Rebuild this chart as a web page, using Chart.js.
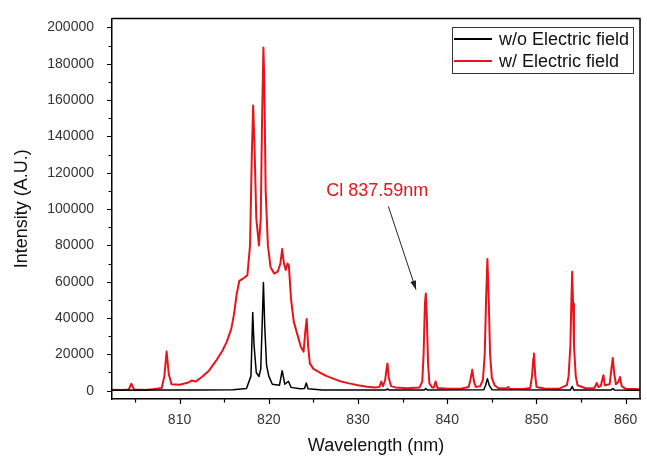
<!DOCTYPE html>
<html>
<head>
<meta charset="utf-8">
<script src="https://cdn.jsdelivr.net/npm/chart.js@4.4.1/dist/chart.umd.min.js"></script>
<style>
html,body{margin:0;padding:0;background:#fff;}
canvas{display:block;}
</style>
</head>
<body>
<canvas id="c" width="647" height="456"></canvas>
<script>
// ---- data ----
const seriesLabels = ['w/o Electric field', 'w/ Electric field'];

const blackWavelength = [802.4,808.0,812.0,816.0,817.5,818.0,818.1,818.2,818.35,818.6,818.9,819.1,819.25,819.4,819.55,819.75,820.0,820.4,821.2,821.5,821.8,822.2,822.5,823.5,824.0,824.2,824.4,826.0,830.0,833.1,833.3,833.5,837.4,837.6,837.8,844.1,844.3,844.5,844.7,845.0,853.8,854.0,854.2,858.35,858.55,858.75,861.6];
const blackIntensity = [200,300,300,500,1200,8000,25000,43000,25000,10000,7800,12000,35000,59500,35000,14000,8000,3500,3000,11000,3500,5200,1800,1000,1200,4200,1000,400,300,300,900,300,300,1200,300,500,3000,6600,3000,500,300,2300,300,300,1200,300,200];

const redWavelength = [802.4,803.5,804.3,804.6,804.9,806.0,807.0,808.0,808.3,808.55,808.8,809.1,810.0,811.0,811.4,811.8,812.5,813.3,814.1,814.8,815.3,815.8,816.1,816.4,816.7,817.2,817.6,817.9,818.1,818.25,818.4,818.6,818.9,819.1,819.25,819.4,819.5,819.65,819.9,820.2,820.6,821.0,821.3,821.5,821.7,821.9,822.1,822.25,822.5,822.8,823.2,823.6,823.9,824.1,824.25,824.4,824.6,825.0,825.7,826.5,827.3,828.0,829.0,830.0,831.0,832.0,832.4,832.6,832.8,833.05,833.2,833.3,833.45,833.7,834.2,835.5,836.9,837.2,837.35,837.5,837.6,837.7,837.85,838.0,838.3,838.5,838.7,838.9,840.0,841.5,842.4,842.6,842.8,843.0,843.2,843.7,844.0,844.2,844.35,844.5,844.65,844.8,845.0,845.3,845.7,846.6,846.8,847.0,848.5,849.3,849.5,849.65,849.72,849.85,850.0,851.0,852.5,853.4,853.6,853.8,853.9,854.0,854.1,854.2,854.4,854.6,855.5,856.5,856.75,856.95,857.2,857.4,857.5,857.65,858.2,858.4,858.55,858.7,858.9,859.2,859.35,859.55,860.0,861.6];
const redIntensity = [500,300,600,3800,700,400,800,1500,8000,21500,9000,3500,3200,4500,5600,5000,7500,11000,16500,22000,27000,34000,42000,53000,60500,62000,63500,80000,130000,157000,135000,95000,80000,95000,150000,189000,170000,110000,80000,68000,64500,65500,70000,78000,70000,66500,70000,69000,50000,38000,31000,24000,21500,33000,39500,25000,15000,12000,10000,8000,6500,5200,4000,3000,2200,1800,2000,5000,2500,6000,12000,15000,7000,2500,1800,1300,1800,5000,20000,48000,53500,42000,15000,4000,1800,1800,5000,1500,1100,1100,2000,6000,11500,5000,2000,2500,6000,20000,50000,72500,50000,20000,7000,3000,1500,1200,2000,1000,900,1500,8000,18000,20500,9000,2000,1000,1000,3000,8000,25000,48000,65500,48000,25000,8000,3000,1300,1500,4200,2000,2500,6500,8500,3000,3500,12000,18000,10000,3500,5000,7500,2500,1000,800];

const xMajorTicks = [810,820,830,840,850,860];
const xMinorTicks = [805,815,825,835,845,855];
const yMajorTicks = [0,20000,40000,60000,80000,100000,120000,140000,160000,180000,200000];
const yMinorTicks = [10000,30000,50000,70000,90000,110000,130000,150000,170000,190000];

const annotationText = 'Cl 837.59nm';
const annotationTextPos = [832.15, 110000];
const arrowFrom = [833.4, 101500];
const arrowTo = [836.5, 55600];

// ---- chart ----
const FONT = "'Liberation Sans', Arial, sans-serif";
const toPts = (xs, ys) => xs.map((x, i) => ({x: x, y: ys[i]}));

const decor = {
  id: 'decor',
  afterDraw(chart) {
    const ctx = chart.ctx;
    const a = chart.chartArea;
    const xs = chart.scales.x, ys = chart.scales.y;
    ctx.save();
    // frame top + right
    ctx.strokeStyle = '#000';
    ctx.lineWidth = 1.5;
    ctx.beginPath();
    ctx.moveTo(a.left, a.top); ctx.lineTo(a.right, a.top); ctx.lineTo(a.right, a.bottom);
    ctx.stroke();
    // ticks
    ctx.lineWidth = 1.2;
    ctx.beginPath();
    xMajorTicks.forEach(v => { const p = Math.round(xs.getPixelForValue(v)) + 0.5; ctx.moveTo(p, a.bottom); ctx.lineTo(p, a.bottom + 5); });
    xMinorTicks.forEach(v => { const p = Math.round(xs.getPixelForValue(v)) + 0.5; ctx.moveTo(p, a.bottom); ctx.lineTo(p, a.bottom + 3.5); });
    yMajorTicks.forEach(v => { const p = Math.round(ys.getPixelForValue(v)) + 0.5; ctx.moveTo(a.left, p); ctx.lineTo(a.left - 5, p); });
    yMinorTicks.forEach(v => { const p = Math.round(ys.getPixelForValue(v)) + 0.5; ctx.moveTo(a.left, p); ctx.lineTo(a.left - 3.5, p); });
    ctx.stroke();

    // legend
    const lx = 452, ly = 27, lw = 181, lh = 46;
    ctx.fillStyle = '#fff';
    ctx.fillRect(lx, ly, lw, lh);
    ctx.strokeStyle = '#333';
    ctx.lineWidth = 1;
    ctx.strokeRect(lx + 0.5, ly + 0.5, lw, lh);
    const rows = [39, 61];
    chart.data.datasets.forEach((ds, i) => {
      ctx.strokeStyle = ds.borderColor;
      ctx.lineWidth = 1.8;
      ctx.beginPath();
      ctx.moveTo(lx + 2, rows[i]); ctx.lineTo(lx + 40, rows[i]);
      ctx.stroke();
      ctx.fillStyle = '#111';
      ctx.font = '18px ' + FONT;
      ctx.textBaseline = 'middle';
      ctx.textAlign = 'left';
      ctx.fillText(ds.label, lx + 47, rows[i] + 1);
    });

    // annotation
    ctx.fillStyle = '#e8141c';
    ctx.font = '18px ' + FONT;
    ctx.textAlign = 'center';
    ctx.textBaseline = 'middle';
    ctx.fillText(annotationText, xs.getPixelForValue(annotationTextPos[0]), ys.getPixelForValue(annotationTextPos[1]));
    const x1 = xs.getPixelForValue(arrowFrom[0]), y1 = ys.getPixelForValue(arrowFrom[1]);
    const x2 = xs.getPixelForValue(arrowTo[0]), y2 = ys.getPixelForValue(arrowTo[1]);
    ctx.strokeStyle = '#222';
    ctx.fillStyle = '#222';
    ctx.lineWidth = 1;
    ctx.beginPath(); ctx.moveTo(x1, y1); ctx.lineTo(x2, y2); ctx.stroke();
    const ang = Math.atan2(y2 - y1, x2 - x1);
    const L = 9, W = 3;
    ctx.beginPath();
    ctx.moveTo(x2, y2);
    ctx.lineTo(x2 - L * Math.cos(ang) + W * Math.sin(ang), y2 - L * Math.sin(ang) - W * Math.cos(ang));
    ctx.lineTo(x2 - L * Math.cos(ang) - W * Math.sin(ang), y2 - L * Math.sin(ang) + W * Math.cos(ang));
    ctx.closePath();
    ctx.fill();
    ctx.restore();
  }
};

new Chart(document.getElementById('c'), {
  type: 'scatter',
  data: {
    datasets: [
      { label: seriesLabels[0], data: toPts(blackWavelength, blackIntensity), showLine: true, borderColor: '#000', borderWidth: 1.5, borderJoinStyle: 'round', pointRadius: 0, tension: 0, fill: false },
      { label: seriesLabels[1], data: toPts(redWavelength, redIntensity), showLine: true, borderColor: '#e8141c', borderWidth: 2, borderJoinStyle: 'round', pointRadius: 0, tension: 0, fill: false }
    ]
  },
  options: {
    responsive: false,
    animation: false,
    events: [],
    layout: { padding: { top: 11, right: 7, left: 0, bottom: 0 } },
    plugins: { legend: { display: false }, tooltip: { enabled: false } },
    scales: {
      x: {
        type: 'linear', min: 802.43, max: 861.6,
        afterBuildTicks: s => { s.ticks = xMajorTicks.map(v => ({ value: v })); },
        afterFit: s => { s.height = 57; },
        grid: { display: false },
        border: { display: true, color: '#000', width: 1.5 },
        ticks: { font: { size: 14, family: FONT }, color: '#333', padding: 5, maxRotation: 0, autoSkip: false },
        title: { display: true, text: 'Wavelength (nm)', font: { size: 18, family: FONT, lineHeight: 1.0 }, color: '#111', padding: { top: 0, bottom: 1 } }
      },
      y: {
        type: 'linear', min: -4600, max: 205000,
        afterBuildTicks: s => { s.ticks = yMajorTicks.map(v => ({ value: v })); },
        afterFit: s => { s.width = 112; },
        grid: { display: false },
        border: { display: true, color: '#000', width: 1.5 },
        ticks: { font: { size: 14, family: FONT }, color: '#333', padding: 10, autoSkip: false, callback: v => String(v) },
        title: { display: true, text: 'Intensity (A.U.)', font: { size: 18, family: FONT }, color: '#111', padding: { top: 11, bottom: 0 } }
      }
    }
  },
  plugins: [decor]
});
</script>
</body>
</html>
